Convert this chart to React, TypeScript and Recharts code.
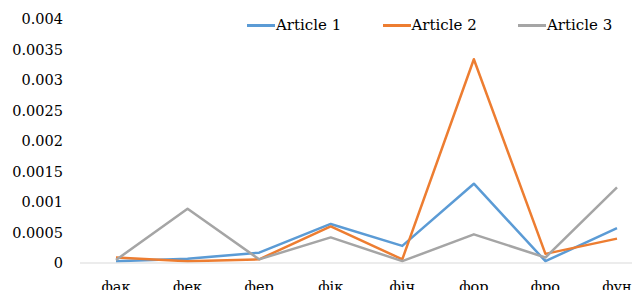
import { LineChart, Line, XAxis, YAxis } from "recharts";

const categories = ["фак", "фек", "фер", "фік", "фіч", "фор", "фро", "фун"];
const article1 = [0.00003, 0.00007, 0.00017, 0.00064, 0.00028, 0.0013, 0.00003, 0.00057];
const article2 = [0.00009, 0.00003, 0.00006, 0.0006, 0.00006, 0.00334, 0.00015, 0.0004];
const article3 = [0.00005, 0.00089, 0.00006, 0.00042, 0.00003, 0.00047, 0.00009, 0.00124];
const yTicks = [0, 0.0005, 0.001, 0.0015, 0.002, 0.0025, 0.003, 0.0035, 0.004];

const series = [
  { key: "a1", name: "Article 1", color: "#5B9BD5" },
  { key: "a2", name: "Article 2", color: "#ED7D31" },
  { key: "a3", name: "Article 3", color: "#A5A5A5" },
];

const data = categories.map((c, i) => ({
  cat: c,
  a1: article1[i],
  a2: article2[i],
  a3: article3[i],
}));

const FONT = "'DejaVu Serif', serif";

// легенда як в Excel: коротка лінія + підпис (поверх графіка, не зсуває область побудови)
function ExcelLegend() {
  return (
    <div
      style={{
        position: "absolute",
        left: 247,
        top: 15,
        display: "flex",
        fontFamily: FONT,
        fontSize: 15,
        color: "#000",
      }}
    >
      {series.map((s) => (
        <div key={s.key} style={{ display: "flex", alignItems: "center", width: 135.5 }}>
          <span style={{ display: "inline-block", width: 28, height: 3, background: s.color }} />
          <span style={{ marginLeft: 1, lineHeight: "20px" }}>{s.name}</span>
        </div>
      ))}
    </div>
  );
}

export default function App() {
  return (
    <div
      style={{
        position: "absolute",
        left: 0,
        top: 0,
        width: 632,
        height: 290,
        overflow: "hidden",
        background: "#fff",
        fontFamily: FONT,
      }}
    >
      <LineChart
        width={653}
        height={300}
        data={data}
        margin={{ top: 19, right: 0, bottom: 0, left: 0 }}
        style={{ fontFamily: FONT }}
      >
        <XAxis
          dataKey="cat"
          height={37}
          padding={{ left: 36, right: 36 }}
          axisLine={{ stroke: "#D9D9D9", strokeWidth: 1 }}
          tickLine={false}
          tickSize={0}
          tickMargin={19}
          interval={0}
          tick={{ fill: "#000", fontSize: 14.5, fontFamily: FONT }}
        />
        <YAxis
          width={80}
          domain={[0, 0.004]}
          ticks={yTicks}
          axisLine={false}
          tickLine={false}
          tickSize={0}
          tickMargin={17}
          tickFormatter={(v: number) => String(v)}
          tick={{ fill: "#000", fontSize: 14.5, fontFamily: FONT }}
        />
        {series.map((s) => (
          <Line
            key={s.key}
            type="linear"
            dataKey={s.key}
            name={s.name}
            stroke={s.color}
            strokeWidth={2.5}
            strokeLinejoin="round"
            dot={false}
            activeDot={false}
            isAnimationActive={false}
          />
        ))}
      </LineChart>
      <ExcelLegend />
    </div>
  );
}
